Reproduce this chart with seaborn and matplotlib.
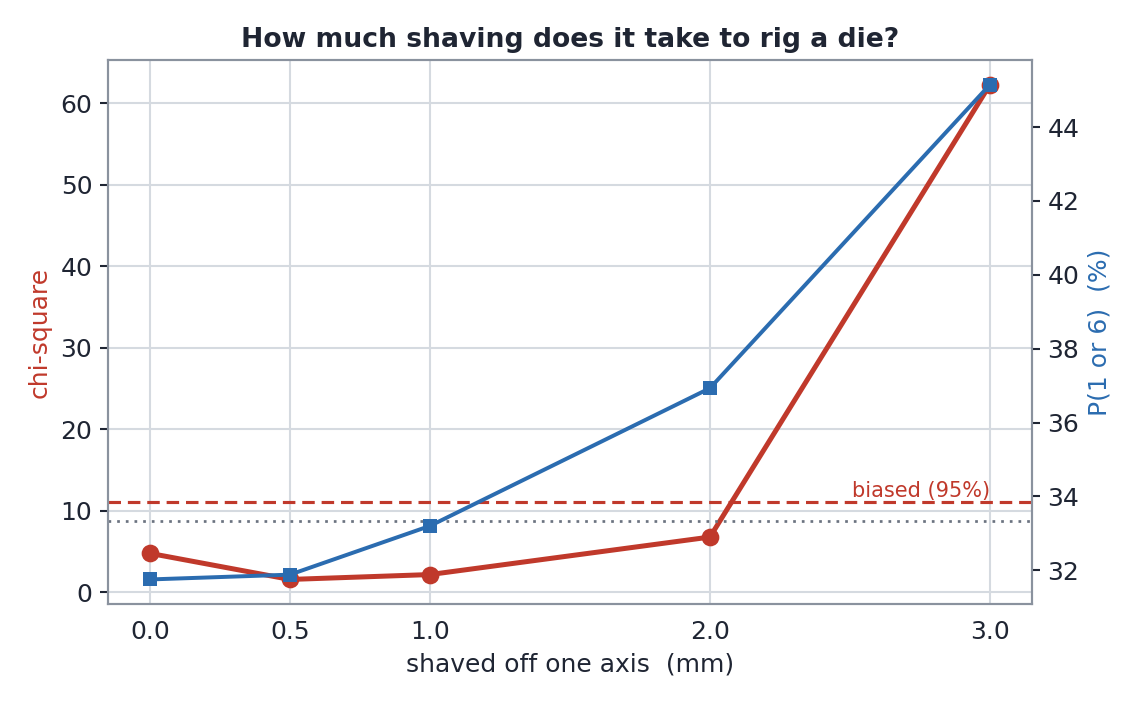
import matplotlib
matplotlib.use("Agg")
import matplotlib.pyplot as plt
import seaborn as sns
import pandas as pd

shaved_mm = [0.0, 0.5, 1.0, 2.0, 3.0]
chi_square = [4.8, 1.6, 2.2, 6.8, 62.3]
p_1_or_6 = [31.75, 31.88, 33.2, 36.93, 45.15]
chi_crit_95 = 11.07
fair_pct = 100 / 3

RED = "#c0392b"
BLUE = "#2b6cb0"
TEXT = "#1f2533"
SPINE = "#8a929e"
GRID = "#d5dae0"

sns.set_theme(style="whitegrid")
plt.rcParams["font.family"] = ["DejaVu Sans"]
plt.rcParams.update({
    "axes.edgecolor": SPINE,
    "grid.color": GRID,
    "text.color": TEXT,
    "axes.labelcolor": TEXT,
    "xtick.color": TEXT,
    "ytick.color": TEXT,
})

df = pd.DataFrame({"mm": shaved_mm, "chi": chi_square, "p": p_1_or_6})

fig = plt.figure(figsize=(7.6, 4.7), dpi=150)
ax = fig.add_axes([0.0947, 0.143, 0.8105, 0.772])
ax2 = ax.twinx()

sns.lineplot(data=df, x="mm", y="chi", ax=ax, color=RED, lw=2.4,
             marker="o", markersize=8.5, markeredgewidth=0, zorder=3)
ax.axhline(chi_crit_95, color=RED, ls=(0, (4, 2.2)), lw=1.5, zorder=2)
ax.text(3.0, chi_crit_95 + 0.1, "biased (95%)", color=RED, fontsize=10,
        ha="right", va="bottom")

sns.lineplot(data=df, x="mm", y="p", ax=ax2, color=BLUE, lw=1.9,
             marker="s", markersize=7, markeredgewidth=0, zorder=3)
ax2.axhline(fair_pct, color="#6b7380", ls=(0, (1, 2.2)), lw=1.3, zorder=2)

ax.set_xticks(shaved_mm)
ax.set_xticklabels([f"{v:.1f}" for v in shaved_mm])
ax.set_yticks([0, 10, 20, 30, 40, 50, 60])
ax2.set_yticks([32, 34, 36, 38, 40, 42, 44])
ax2.grid(False)
ax.grid(True, color=GRID, lw=1)

ax.set_xlabel("shaved off one axis  (mm)", fontsize=12)
ax.set_ylabel("chi-square", fontsize=12, color=RED)
ax2.set_ylabel("P(1 or 6)  (%)", fontsize=12, color=BLUE)
ax.set_title("How much shaving does it take to rig a die?", fontsize=12.8,
             fontweight="bold", color=TEXT, pad=6)

for a in (ax, ax2):
    a.tick_params(labelsize=12, length=4, width=1, color=TEXT, direction="out")
    for s in a.spines.values():
        s.set_color(SPINE)
        s.set_linewidth(1.0)

fig.savefig("out.png", dpi=150)
